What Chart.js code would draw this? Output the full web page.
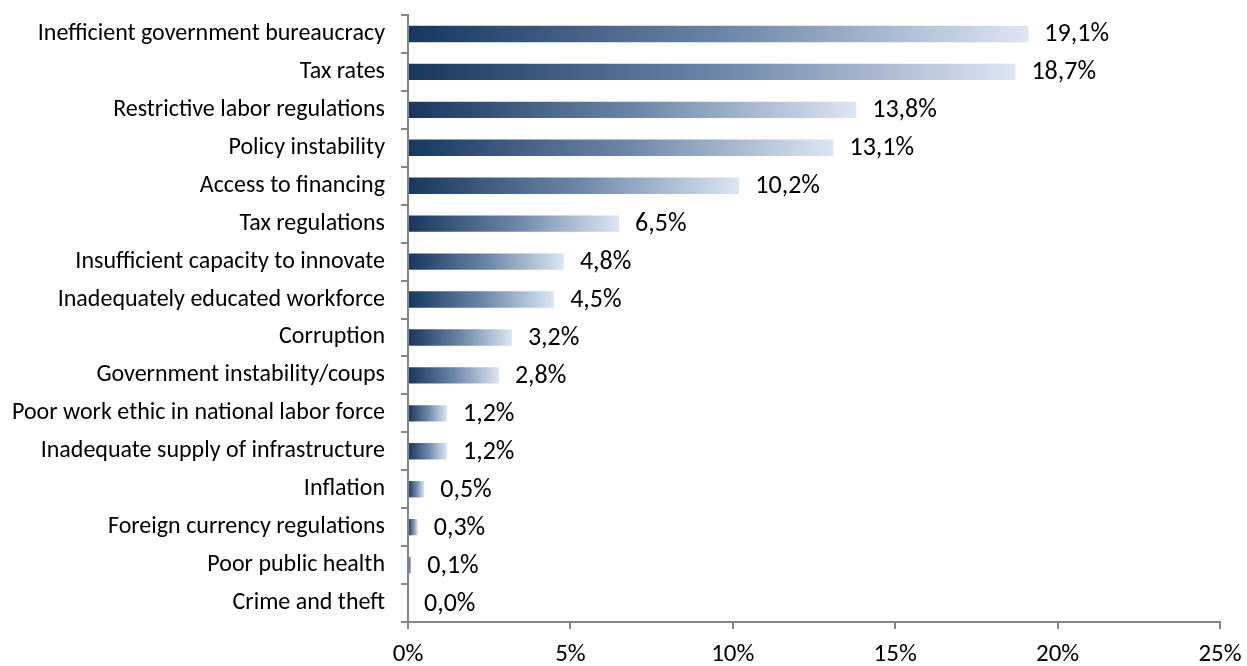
<!DOCTYPE html>
<html>
<head>
<meta charset="utf-8">
<script src="https://cdn.jsdelivr.net/npm/chart.js@4/dist/chart.umd.min.js"></script>
<style>
  html, body { margin: 0; padding: 0; background: #fff; }
  #wrap { width: 1247px; height: 666px; position: relative; }
</style>
</head>
<body>
<div id="wrap"><canvas id="myChart"></canvas></div>
<script>
// data
const categories = [
    'Inefficient government bureaucracy',
    'Tax rates',
    'Restrictive labor regulations',
    'Policy instability',
    'Access to financing',
    'Tax regulations',
    'Insufficient capacity to innovate',
    'Inadequately educated workforce',
    'Corruption',
    'Government instability/coups',
    'Poor work ethic in national labor force',
    'Inadequate supply of infrastructure',
    'Inflation',
    'Foreign currency regulations',
    'Poor public health',
    'Crime and theft'
];
const shares = [19.1, 18.7, 13.8, 13.1, 10.2, 6.5, 4.8, 4.5, 3.2, 2.8, 1.2, 1.2, 0.5, 0.3, 0.1, 0.0];
const xTicks = [0, 5, 10, 15, 20, 25];

const FONT = 'Carlito, Lato, "Open Sans", sans-serif';
const AXIS_GREY = '#868686';

// horizontal gradient dark -> light over each bar's own length
function barGradient(c) {
    const chart = c.chart;
    const x = chart.scales.x;
    if (!chart.chartArea || !x) return '#17375e';
    const x0 = x.getPixelForValue(0);
    let x1 = x.getPixelForValue(shares[c.dataIndex]);
    if (x1 - x0 < 1) x1 = x0 + 1;
    const g = chart.ctx.createLinearGradient(x0, 0, x1, 0);
    g.addColorStop(0, '#17375e');
    g.addColorStop(0.5, '#6a84a6');
    g.addColorStop(1, '#dce6f4');
    return g;
}

// value labels to the right of the bars
const valueLabels = {
    id: 'valueLabels',
    afterDatasetsDraw(chart) {
        const ctx = chart.ctx;
        const meta = chart.getDatasetMeta(0);
        ctx.save();
        ctx.font = '26px ' + FONT;
        ctx.fillStyle = '#000';
        ctx.textAlign = 'left';
        ctx.textBaseline = 'middle';
        meta.data.forEach((bar, i) => {
            const txt = shares[i].toFixed(1).replace('.', ',') + '%';
            ctx.fillText(txt, bar.x + 16, bar.y + 1);
        });
        ctx.restore();
    }
};

const ctx = document.getElementById('myChart').getContext('2d');
const myChart = new Chart(ctx, {
    type: 'bar',
    data: {
        labels: categories,
        datasets: [{
            data: shares,
            backgroundColor: barGradient,
            borderWidth: 0,
            categoryPercentage: 1,
            barPercentage: 0.43
        }]
    },
    options: {
        indexAxis: 'y',
        responsive: true,
        maintainAspectRatio: false,
        animation: false,
        layout: { padding: { top: 15, right: 27, left: 0, bottom: 0 } },
        plugins: {
            legend: { display: false },
            tooltip: { enabled: false }
        },
        scales: {
            x: {
                min: 0,
                max: 25,
                afterBuildTicks: (s) => { s.ticks = xTicks.map(v => ({ value: v })); },
                afterFit: (s) => { s.height = 44; s.paddingLeft = 0; s.paddingRight = 0; },
                border: { color: AXIS_GREY, width: 2 },
                grid: { drawOnChartArea: false, drawTicks: true, tickLength: 7, color: AXIS_GREY, lineWidth: 2 },
                ticks: {
                    color: '#000',
                    font: { family: FONT, size: 25 },
                    padding: 11,
                    callback: (v) => v + '%'
                }
            },
            y: {
                afterFit: (s) => { s.width = 408; s.paddingTop = 0; s.paddingBottom = 0; },
                border: { color: AXIS_GREY, width: 2 },
                grid: { drawOnChartArea: false, drawTicks: true, tickLength: 7, color: AXIS_GREY, lineWidth: 2, offset: true },
                ticks: {
                    color: '#000',
                    font: { family: FONT, size: 24 },
                    padding: 16,
                    autoSkip: false
                }
            }
        }
    },
    plugins: [valueLabels]
});
</script>
</body>
</html>
